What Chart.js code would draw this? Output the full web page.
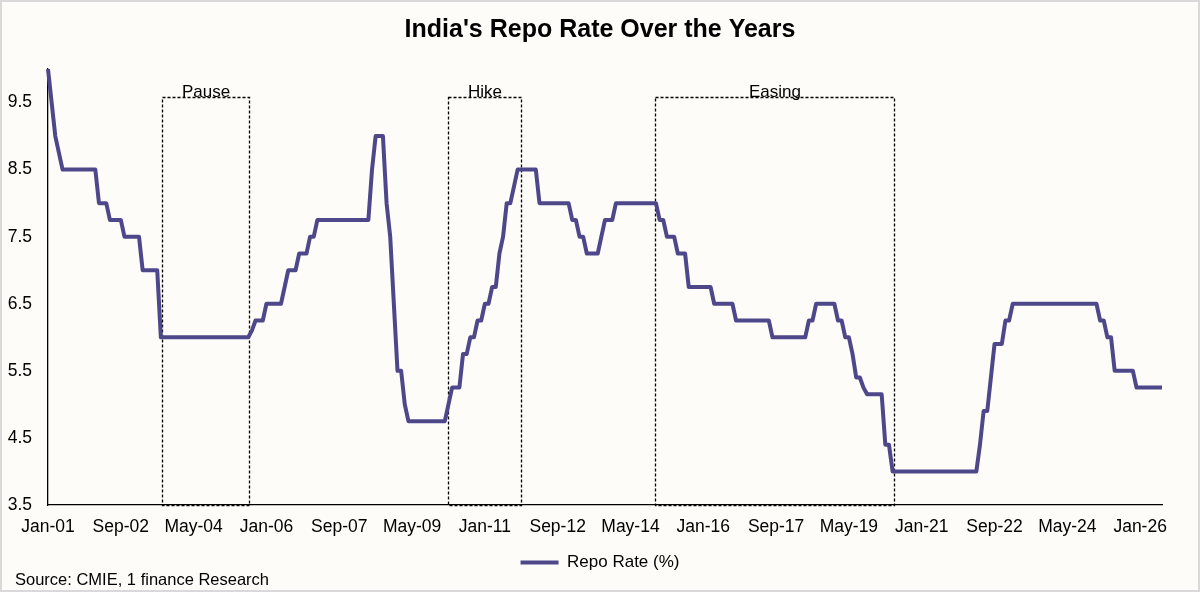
<!DOCTYPE html>
<html>
<head>
<meta charset="utf-8">
<title>India's Repo Rate Over the Years</title>
<script src="https://cdn.jsdelivr.net/npm/chart.js@4.4.1/dist/chart.umd.min.js"></script>
<style>
  html, body { margin: 0; padding: 0; background: #fff; }
  #wrap {
    position: relative;
    width: 1200px;
    height: 592px;
    box-sizing: border-box;
    border: 2px solid #d9d9d9;
    background: #fdfcf8;
  }
  #chart { display: block; }
  #source {
    position: absolute;
    left: 13px;
    top: 568px;
    font: 16.5px "Liberation Sans", Arial, sans-serif;
    color: #000;
  }
</style>
</head>
<body>
<div id="wrap">
  <canvas id="chart" width="1196" height="588"></canvas>
  <div id="source">Source: CMIE, 1 finance Research</div>
</div>
<script>
// Datos: tasa repo mensual, de Jan-01 a Jul-26
const startYear = 2001;
const monthNames = ['Jan', 'Feb', 'Mar', 'Apr', 'May', 'Jun', 'Jul', 'Aug', 'Sep', 'Oct', 'Nov', 'Dec'];

const repoRate = [
  10, 9.5, 9, 8.75, 8.5, 8.5, 8.5, 8.5, 8.5, 8.5, 8.5, 8.5,                 // 2001
  8.5, 8.5, 8, 8, 8, 7.75, 7.75, 7.75, 7.75, 7.5, 7.5, 7.5,                 // 2002
  7.5, 7.5, 7, 7, 7, 7, 7, 6, 6, 6, 6, 6,                                   // 2003
  6, 6, 6, 6, 6, 6, 6, 6, 6, 6, 6, 6,                                       // 2004
  6, 6, 6, 6, 6, 6, 6, 6, 6.1, 6.25, 6.25, 6.25,                            // 2005
  6.5, 6.5, 6.5, 6.5, 6.5, 6.75, 7, 7, 7, 7.25, 7.25, 7.25,                 // 2006
  7.5, 7.5, 7.75, 7.75, 7.75, 7.75, 7.75, 7.75, 7.75, 7.75, 7.75, 7.75,     // 2007
  7.75, 7.75, 7.75, 7.75, 7.75, 8.5, 9, 9, 9, 8, 7.5, 6.5,                  // 2008
  5.5, 5.5, 5, 4.75, 4.75, 4.75, 4.75, 4.75, 4.75, 4.75, 4.75, 4.75,        // 2009
  4.75, 4.75, 5, 5.25, 5.25, 5.25, 5.75, 5.75, 6, 6, 6.25, 6.25,            // 2010
  6.5, 6.5, 6.75, 6.75, 7.25, 7.5, 8, 8, 8.25, 8.5, 8.5, 8.5,               // 2011
  8.5, 8.5, 8.5, 8, 8, 8, 8, 8, 8, 8, 8, 8,                                 // 2012
  7.75, 7.75, 7.5, 7.5, 7.25, 7.25, 7.25, 7.25, 7.5, 7.75, 7.75, 7.75,      // 2013
  8, 8, 8, 8, 8, 8, 8, 8, 8, 8, 8, 8,                                       // 2014
  7.75, 7.75, 7.5, 7.5, 7.5, 7.25, 7.25, 7.25, 6.75, 6.75, 6.75, 6.75,      // 2015
  6.75, 6.75, 6.75, 6.5, 6.5, 6.5, 6.5, 6.5, 6.5, 6.25, 6.25, 6.25,         // 2016
  6.25, 6.25, 6.25, 6.25, 6.25, 6.25, 6.25, 6, 6, 6, 6, 6,                  // 2017
  6, 6, 6, 6, 6, 6.25, 6.25, 6.5, 6.5, 6.5, 6.5, 6.5,                       // 2018
  6.5, 6.25, 6.25, 6, 6, 5.75, 5.4, 5.4, 5.25, 5.15, 5.15, 5.15,            // 2019
  5.15, 5.15, 4.4, 4.4, 4, 4, 4, 4, 4, 4, 4, 4,                             // 2020
  4, 4, 4, 4, 4, 4, 4, 4, 4, 4, 4, 4,                                       // 2021
  4, 4, 4, 4, 4.4, 4.9, 4.9, 5.4, 5.9, 5.9, 5.9, 6.25,                      // 2022
  6.25, 6.5, 6.5, 6.5, 6.5, 6.5, 6.5, 6.5, 6.5, 6.5, 6.5, 6.5,              // 2023
  6.5, 6.5, 6.5, 6.5, 6.5, 6.5, 6.5, 6.5, 6.5, 6.5, 6.5, 6.5,               // 2024
  6.5, 6.25, 6.25, 6, 6, 5.5, 5.5, 5.5, 5.5, 5.5, 5.5, 5.25,                // 2025
  5.25, 5.25, 5.25, 5.25, 5.25, 5.25, 5.25                                  // 2026
];

const yTicks = [3.5, 4.5, 5.5, 6.5, 7.5, 8.5, 9.5];
const tickEvery = 20;

// Fases marcadas con recuadros (posiciones en meses desde Jan-01)
const phaseNames = ['Pause', 'Hike', 'Easing'];
const phaseStart = [31.45, 109.8, 166.8];
const phaseEnd = [55.3, 129.85, 232.3];
const phaseTop = 9.58;

const months = repoRate.map((_, i) => {
  const yy = String((startYear + Math.floor(i / 12)) % 100).padStart(2, '0');
  return monthNames[i % 12] + '-' + yy;
});

const lineColor = '#4e478a';
const fontFamily = '"Liberation Sans", Arial, sans-serif';

Chart.defaults.font.family = fontFamily;
Chart.defaults.color = '#000';

// Recuadros punteados con su etiqueta
const phaseBoxes = {
  id: 'phaseBoxes',
  beforeDatasetsDraw(chart) {
    const { ctx, scales: { x, y } } = chart;
    ctx.save();
    ctx.strokeStyle = '#000';
    ctx.lineWidth = 1.3;
    ctx.setLineDash([3, 2]);
    ctx.fillStyle = '#000';
    ctx.font = '17px ' + fontFamily;
    ctx.textAlign = 'center';
    ctx.textBaseline = 'alphabetic';
    phaseNames.forEach((name, i) => {
      const left = Math.round(x.getPixelForValue(phaseStart[i])) + 0.5;
      const right = Math.round(x.getPixelForValue(phaseEnd[i])) + 0.5;
      const top = Math.round(y.getPixelForValue(phaseTop)) + 0.5;
      const bottom = Math.round(y.getPixelForValue(y.min)) + 0.5;
      ctx.strokeRect(left, top, right - left, bottom - top);
      ctx.fillText(name, (left + right) / 2, top - 1);
    });
    ctx.restore();
  }
};

new Chart(document.getElementById('chart'), {
  type: 'line',
  data: {
    labels: months,
    datasets: [{
      label: 'Repo Rate (%)',
      data: repoRate,
      borderColor: lineColor,
      backgroundColor: lineColor,
      borderWidth: 4,
      borderJoinStyle: 'round',
      pointRadius: 0,
      tension: 0
    }]
  },
  options: {
    responsive: false,
    animation: false,
    layout: { padding: { bottom: 9 } },
    plugins: {
      title: {
        display: true,
        text: "India's Repo Rate Over the Years",
        color: '#000',
        font: { size: 25, weight: 'bold' },
        padding: { top: 13, bottom: 24 }
      },
      legend: {
        position: 'bottom',
        labels: {
          boxWidth: 38,
          boxHeight: 4,
          padding: 4,
          font: { size: 17 },
          generateLabels: chart => Chart.defaults.plugins.legend.labels.generateLabels(chart)
            .map(l => ({ ...l, fillStyle: lineColor, lineWidth: 0 }))
        }
      },
      tooltip: { enabled: false }
    },
    scales: {
      x: {
        offset: false,
        grid: { color: 'transparent', drawTicks: false },
        border: { color: '#000', width: 1.3 },
        ticks: {
          autoSkip: false,
          maxRotation: 0,
          minRotation: 0,
          padding: 12,
          font: { size: 17.5 },
          callback: function (value, index) {
            return index % tickEvery === 0 ? this.getLabelForValue(value) : null;
          }
        },
        afterFit: scale => {
          scale.height = 45;
          scale.paddingRight = 36;
        }
      },
      y: {
        min: 3.5,
        max: 10,
        grid: { color: 'transparent', drawTicks: false },
        border: { color: '#000', width: 1.3 },
        ticks: { padding: 16, font: { size: 17.5 } },
        afterBuildTicks: scale => {
          scale.ticks = yTicks.map(v => ({ value: v }));
        },
        afterFit: scale => {
          scale.width = 46;
        }
      }
    }
  },
  plugins: [phaseBoxes]
});
</script>
</body>
</html>
